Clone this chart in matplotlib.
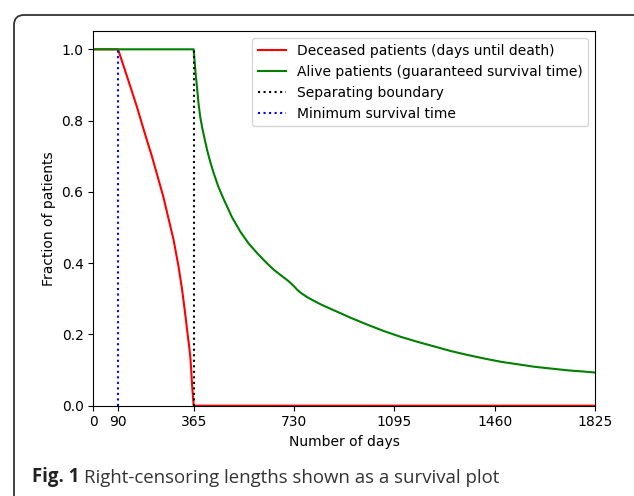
import matplotlib
matplotlib.use("Agg")
import matplotlib.pyplot as plt
from matplotlib.patches import FancyBboxPatch

# days / fraction
dead_days = [0, 90, 120, 158, 185, 213, 235, 255, 275, 292, 310, 323, 333, 343,
             348, 353, 356, 359, 362, 365, 1825]
dead_frac = [1.0, 1.0, 0.93, 0.84, 0.77, 0.70, 0.64, 0.585, 0.52, 0.465, 0.39, 0.325,
             0.265, 0.20, 0.17, 0.135, 0.10, 0.06, 0.03, 0.0, 0.0]

alive_days = [0, 365, 368, 372, 378, 383, 389, 396, 405, 414, 425, 438, 455, 475, 505,
              535, 565, 596, 627, 657, 682, 706, 718, 730, 742, 754, 779, 803, 828, 877,
              938, 998, 1058, 1119, 1180, 1241, 1302, 1363, 1424, 1484, 1545, 1606,
              1667, 1728, 1780, 1825]
alive_frac = [1.0, 1.0, 0.97, 0.933, 0.886, 0.845, 0.81, 0.78, 0.748, 0.717, 0.685,
              0.652, 0.614, 0.578, 0.528, 0.488, 0.455, 0.428, 0.403, 0.381, 0.366,
              0.352, 0.344, 0.335, 0.325, 0.317, 0.304, 0.294, 0.284, 0.267, 0.246,
              0.227, 0.209, 0.193, 0.179, 0.166, 0.153, 0.142, 0.132, 0.123, 0.116,
              0.109, 0.104, 0.099, 0.096, 0.093]

boundary = 365
min_survival = 90
xticks = [0, 90, 365, 730, 1095, 1460, 1825]

fig = plt.figure(figsize=(6.34, 4.96), dpi=100)
ax = fig.add_axes([0.1472, 0.1821, 0.7914, 0.7544])

ax.plot(dead_days, dead_frac, color="r", label="Deceased patients (days until death)")
ax.plot(alive_days, alive_frac, color="g", label="Alive patients (guaranteed survival time)")
ax.plot([boundary, boundary], [0, 1], "k:", label="Separating boundary")
ax.plot([min_survival, min_survival], [0, 1], "b:", label="Minimum survival time")

ax.set_xlim(0, 1825)
ax.set_ylim(0, 1.05)
ax.set_xticks(xticks)
ax.set_yticks([0.0, 0.2, 0.4, 0.6, 0.8, 1.0])
ax.set_xlabel("Number of days")
ax.set_ylabel("Fraction of patients")
ax.legend(loc="upper right")

# rounded frame around the figure (cut off at right/bottom)
frame = FancyBboxPatch((14, -30), 660, 511, boxstyle="round,pad=0,rounding_size=10",
                       transform=None, fill=False, edgecolor="#333333", linewidth=1.3,
                       figure=fig)
fig.patches.append(frame)

# caption: bold "Fig. 1" followed by regular text
t1 = fig.text(31.7 / 634, 1 - 481.7 / 496, "Fig. 1", fontsize=13.4, fontweight="bold",
              family="Open Sans", color="#222222", va="baseline")
ax.annotate("Right-censoring lengths shown as a survival plot", xy=(1, 0), xycoords=t1,
            xytext=(3.5, 0), textcoords="offset points", fontsize=13.4, family="Open Sans",
            color="#333333", va="bottom", annotation_clip=False)

fig.savefig("out.png", dpi=100)
